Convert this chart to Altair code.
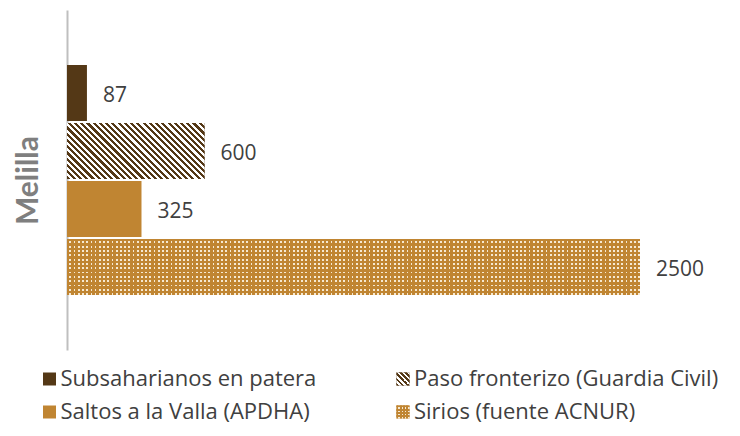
import altair as alt
import pandas as pd

# ---- data ----
region = "Melilla"
series = [
    "Subsaharianos en patera",
    "Paso fronterizo (Guardia Civil)",
    "Saltos a la Valla (APDHA)",
    "Sirios (fuente ACNUR)",
]
values = [87, 600, 325, 2500]
colors = ["#543816", "#543816", "#C08532", "#C08532"]

df = pd.DataFrame({"serie": series, "valor": values})
# legend grid: 2 columns, row-major
df_leg = pd.DataFrame({
    "serie": series,
    "col": [i % 2 for i in range(len(series))],
    "row": [i // 2 for i in range(len(series))],
})

# ---- layout constants ----
W, H = 573, 340
P_IN, P_OUT = 0.035, 0.95
step = H / (len(series) - P_IN + 2 * P_OUT)
bandw = step * (1 - P_IN)
xmax = max(values)
px_per_unit = W / xmax

DARK = "#543816"
TAN = "#C08532"
LIGHT = "#F6E9D2"
WHITE = "#FFFFFF"
CLEAR = "rgba(255,255,255,0)"
FONT = "Open Sans"
TXT = "#404040"


def hatch(w, h, period_perp, c1, c2):
    """Diagonal (\\) stripes at 45 deg via a gradient in bbox units."""
    r = h / w
    k = (1 + r) / (1 + r * r)
    L = (w + h) / 2 ** 0.5
    n = max(1, round(L / period_perp))
    stops = []
    for i in range(n):
        a, m, b = i / n, (i + 0.5) / n, (i + 1) / n
        stops += [
            {"offset": round(a, 5), "color": c1},
            {"offset": round(m, 5), "color": c1},
            {"offset": round(m, 5), "color": c2},
            {"offset": round(b, 5), "color": c2},
        ]
    return {"gradient": "linear", "x1": 0, "y1": 1, "x2": round(k, 5),
            "y2": round(1 - k * r, 5), "stops": stops}


def stripes(length, period, frac_light, c_base, c_light, along_y):
    n = max(1, round(length / period))
    stops = []
    for i in range(n):
        a, m, b = i / n, (i + 1 - frac_light) / n, (i + 1) / n
        stops += [
            {"offset": round(a, 5), "color": c_base},
            {"offset": round(m, 5), "color": c_base},
            {"offset": round(m, 5), "color": c_light},
            {"offset": round(b, 5), "color": c_light},
        ]
    return {"gradient": "linear", "x1": 0, "y1": 0,
            "x2": 0 if along_y else 1, "y2": 1 if along_y else 0, "stops": stops}


w_paso = values[1] * px_per_unit
w_sir = values[3] * px_per_unit
paso_fill = hatch(w_paso, bandw, 4.4, DARK, WHITE)
sir_rows = stripes(bandw, 4.2, 0.42, TAN, LIGHT, True)
sir_cols = stripes(w_sir, 4.2, 0.42, TAN, CLEAR, False)

SYM = 13
paso_sym = hatch(SYM, SYM, 3.4, DARK, WHITE)
sir_sym_rows = stripes(SYM, 3.2, 0.4, TAN, LIGHT, True)
sir_sym_cols = stripes(SYM, 3.2, 0.4, TAN, CLEAR, False)

# ---- bars ----
y = alt.Y(
    "serie:N", sort=series,
    scale=alt.Scale(paddingInner=P_IN, paddingOuter=P_OUT),
    axis=alt.Axis(
        title=region, labels=False, ticks=False, grid=False,
        domainColor="#BFBFBF", domainWidth=2,
        titleFont="Lato", titleFontSize=30, titleFontWeight="bold",
        titleColor="#7F7F7F", titlePadding=24,
    ),
)
x = alt.X("valor:Q", scale=alt.Scale(domain=[0, xmax], nice=False), axis=None)
color = alt.Color("serie:N", scale=alt.Scale(domain=series, range=colors), legend=None)

base = alt.Chart(df)
bars = base.mark_bar().encode(x=x, y=y, color=color)
paso = base.transform_filter(alt.datum.serie == series[1]).mark_bar(fill=paso_fill).encode(x=x, y=y)
sir1 = base.transform_filter(alt.datum.serie == series[3]).mark_bar(fill=sir_rows).encode(x=x, y=y)
sir2 = base.transform_filter(alt.datum.serie == series[3]).mark_bar(fill=sir_cols).encode(x=x, y=y)
labels = base.mark_text(
    align="left", baseline="middle", dx=16, dy=3, fontSize=21, font=FONT, color=TXT
).encode(x=x, y=y, text="valor:Q")

plot = alt.layer(bars, paso, sir1, sir2, labels)

# ---- legend (own scales placing it below the plot) ----
lx = alt.X("col:Q", scale=alt.Scale(domain=[0, 1], range=[-17.5, 336]), axis=None)
ly = alt.Y("row:Q", scale=alt.Scale(domain=[0, 1], range=[369, 402]), axis=None)
lcolor = alt.Color("serie:N", scale=alt.Scale(domain=series, range=colors), legend=None)

lbase = alt.Chart(df_leg)
lsym = lbase.mark_square(size=SYM * SYM, opacity=1, strokeWidth=0).encode(x=lx, y=ly, color=lcolor)
lpaso = lbase.transform_filter(alt.datum.serie == series[1]).mark_square(
    size=SYM * SYM, fill=paso_sym, opacity=1, strokeWidth=0).encode(x=lx, y=ly)
lsir1 = lbase.transform_filter(alt.datum.serie == series[3]).mark_square(
    size=SYM * SYM, fill=sir_sym_rows, opacity=1, strokeWidth=0).encode(x=lx, y=ly)
lsir2 = lbase.transform_filter(alt.datum.serie == series[3]).mark_square(
    size=SYM * SYM, fill=sir_sym_cols, opacity=1, strokeWidth=0).encode(x=lx, y=ly)
ltext = lbase.mark_text(
    align="left", baseline="middle", dx=11, fontSize=22, font=FONT, color=TXT
).encode(x=lx, y=ly, text="serie:N")

legend = alt.layer(lsym, lpaso, lsir1, lsir2, ltext)

chart = (
    alt.layer(plot, legend)
    .resolve_scale(x="independent", y="independent", color="independent")
    .properties(
        width=W, height=H,
        autosize=alt.AutoSizeParams(type="none"),
        padding={"left": 59, "top": 2, "right": 92, "bottom": 78},
    )
    .configure_view(stroke=None)
)

chart.save("out.html", embed_options={"renderer": "svg", "actions": False})
